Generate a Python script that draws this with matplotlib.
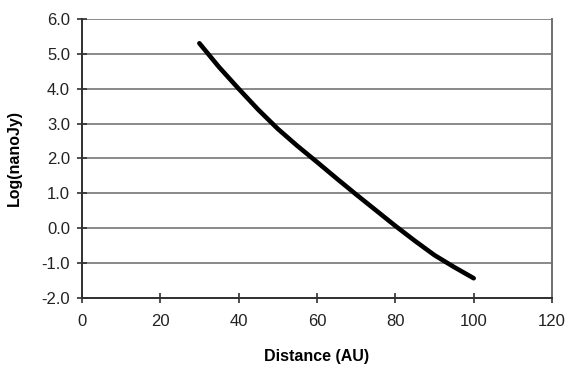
import matplotlib
matplotlib.use('Agg')
import numpy as np
import matplotlib.pyplot as plt

plt.rcParams['font.family'] = ['Liberation Sans', 'DejaVu Sans']

# values
distance = [30, 35, 40, 45, 50, 55, 60, 65, 70, 75, 80, 85, 90, 95, 100]
log_flux = [5.3, 4.62, 4.0, 3.4, 2.85, 2.36, 1.9, 1.43, 0.97, 0.52, 0.07, -0.36, -0.77, -1.11, -1.43]
y_ticks = [-2, -1, 0, 1, 2, 3, 4, 5, 6]
x_ticks = [0, 20, 40, 60, 80, 100, 120]

fig = plt.figure(figsize=(5.68, 3.69), dpi=100)
ax = fig.add_axes([0.144, 0.192, 0.828, 0.757])

ax.plot(distance, log_flux, color='black', linewidth=3.3, solid_capstyle='round')

ax.set_xlim(0, 120)
ax.set_ylim(-2, 6)
ax.set_xticks(x_ticks)
ax.set_yticks(y_ticks)
ax.set_yticklabels(['%.1f' % v for v in y_ticks])

ax.grid(axis='y', color='#808080', linewidth=1.3)
ax.set_axisbelow(True)
ax.spines['top'].set_visible(False)
ax.spines['right'].set_color('#707070')
ax.spines['left'].set_color('#303030')
ax.spines['bottom'].set_color('#303030')
for s in ax.spines.values():
    s.set_linewidth(1.4)

ax.tick_params(direction='inout', length=7, width=1.2, color='#303030',
               labelsize=12, labelcolor='#222222')
ax.tick_params(axis='x', pad=8)
ax.tick_params(axis='y', pad=5)

ax.set_xlabel('Distance (AU)', fontsize=11.5, fontweight='bold', labelpad=14)
ax.set_ylabel('Log(nanoJy)', fontsize=11.5, fontweight='bold', labelpad=14)

fig.savefig('out.png', dpi=100)
